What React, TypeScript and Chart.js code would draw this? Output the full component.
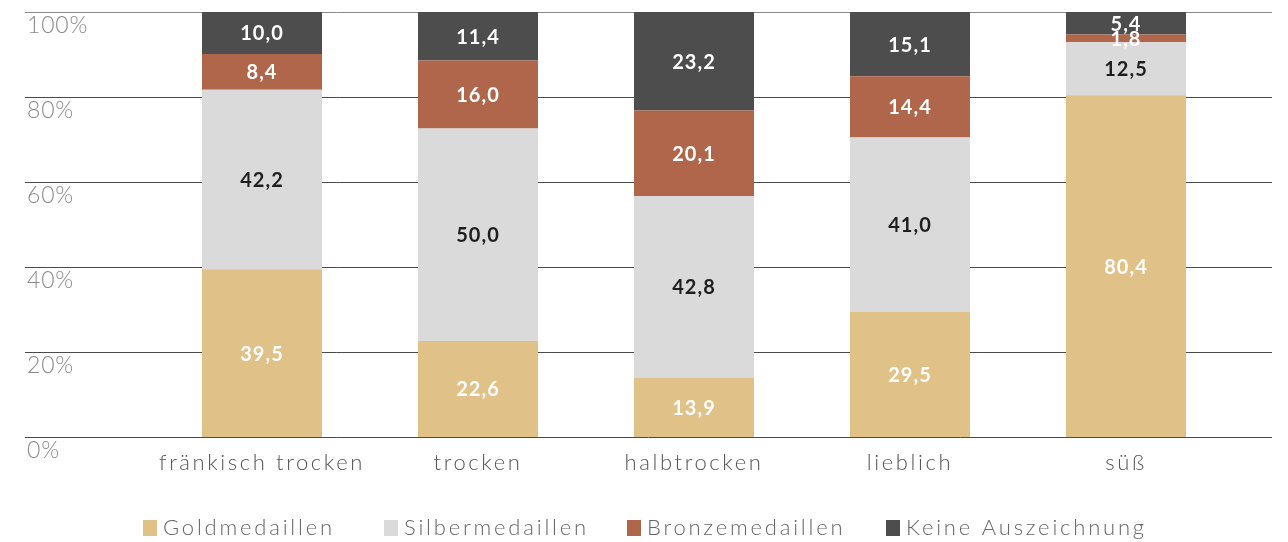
import React, { useEffect, useRef } from "react";
import { Chart, registerables } from "chart.js";
Chart.register(...registerables);

const categories = ["fränkisch trocken", "trocken", "halbtrocken", "lieblich", "süß"];
const gold = [39.5, 22.6, 13.9, 29.5, 80.4];
const silber = [42.2, 50.0, 42.8, 41.0, 12.5];
const bronze = [8.4, 16.0, 20.1, 14.4, 1.8];
const keine = [10.0, 11.4, 23.2, 15.1, 5.4];
const seriesNames = ["Goldmedaillen", "Silbermedaillen", "Bronzemedaillen", "Keine Auszeichnung"];
const yTicks = [0, 20, 40, 60, 80, 100];

const COLORS = ["#e0c187", "#dadada", "#b0664a", "#4d4d4d"];
const LABEL_COLORS = ["#ffffff", "#1e1e1e", "#ffffff", "#ffffff"];
const FONT = "Lato, 'Open Sans', sans-serif";

const decorPlugin = {
  id: "decor",
  beforeDatasetsDraw(chart: any) {
    const ctx = chart.ctx;
    const y = chart.scales.y;
    ctx.save();
    yTicks.forEach((t) => {
      const py = Math.round(y.getPixelForValue(t)) + 0.5;
      ctx.strokeStyle = t === 100 ? "#8a8a8a" : "#4a4a4a";
      ctx.lineWidth = 1;
      ctx.beginPath();
      ctx.moveTo(25, py);
      ctx.lineTo(1272, py);
      ctx.stroke();
      ctx.fillStyle = "#8a8a8a";
      ctx.font = `300 23px ${FONT}`;
      (ctx as any).letterSpacing = "0.8px";
      ctx.textAlign = "left";
      ctx.textBaseline = "alphabetic";
      ctx.fillText(t + "%", 27, py + 20);
    });
    ctx.restore();
  },
  afterDatasetsDraw(chart: any) {
    const ctx = chart.ctx;
    const x = chart.scales.x;
    ctx.save();
    // data labels
    chart.data.datasets.forEach((ds: any, di: number) => {
      const meta = chart.getDatasetMeta(di);
      meta.data.forEach((bar: any, i: number) => {
        const v = ds.data[i];
        const top = Math.max(bar.y, chart.chartArea.top);
        const cy = (top + bar.base) / 2;
        ctx.fillStyle = LABEL_COLORS[di];
        ctx.font = `bold 20px ${FONT}`;
        (ctx as any).letterSpacing = "1px";
        ctx.textAlign = "center";
        ctx.textBaseline = "middle";
        ctx.fillText(v.toFixed(1).replace(".", ","), bar.x, cy + 1);
      });
    });
    // x labels
    categories.forEach((c, i) => {
      const px = x.getPixelForValue(i);
      ctx.fillStyle = "#555555";
      ctx.font = `300 22px ${FONT}`;
      (ctx as any).letterSpacing = "2.6px";
      ctx.textAlign = "center";
      ctx.textBaseline = "middle";
      ctx.fillText(c, px, 463);
    });
    // legend
    const starts = [143, 384, 627, 886];
    seriesNames.forEach((n, i) => {
      ctx.fillStyle = COLORS[i];
      ctx.fillRect(starts[i], 520, 14, 16);
      ctx.fillStyle = "#666666";
      ctx.font = `300 22px ${FONT}`;
      (ctx as any).letterSpacing = "2.8px";
      ctx.textAlign = "left";
      ctx.textBaseline = "middle";
      ctx.fillText(n, starts[i] + 20, 528);
    });
    ctx.restore();
  },
};

export default function App() {
  const ref = useRef<HTMLCanvasElement>(null);
  useEffect(() => {
    document.body.style.margin = "0";
    const data = [gold, silber, bronze, keine];
    const chart = new Chart(ref.current!, {
      type: "bar",
      data: {
        labels: categories,
        datasets: seriesNames.map((n, i) => ({
          label: n,
          data: data[i],
          backgroundColor: COLORS[i],
          borderWidth: 0,
          barPercentage: 1,
          categoryPercentage: 120 / 216,
        })),
      },
      options: {
        animation: false,
        responsive: false,
        maintainAspectRatio: false,
        layout: { padding: { left: 154, right: 1288 - 1234, top: 12, bottom: 542 - 437 } },
        plugins: { legend: { display: false }, tooltip: { enabled: false } },
        scales: {
          x: { stacked: true, display: false },
          y: { stacked: true, display: false, min: 0, max: 100 },
        },
      },
      plugins: [decorPlugin],
    });
    return () => chart.destroy();
  }, []);
  return (
    <div style={{ position: "absolute", left: 0, top: 0, width: 1288, height: 542 }}>
      <canvas ref={ref} width={1288} height={542} style={{ width: 1288, height: 542 }} />
    </div>
  );
}
